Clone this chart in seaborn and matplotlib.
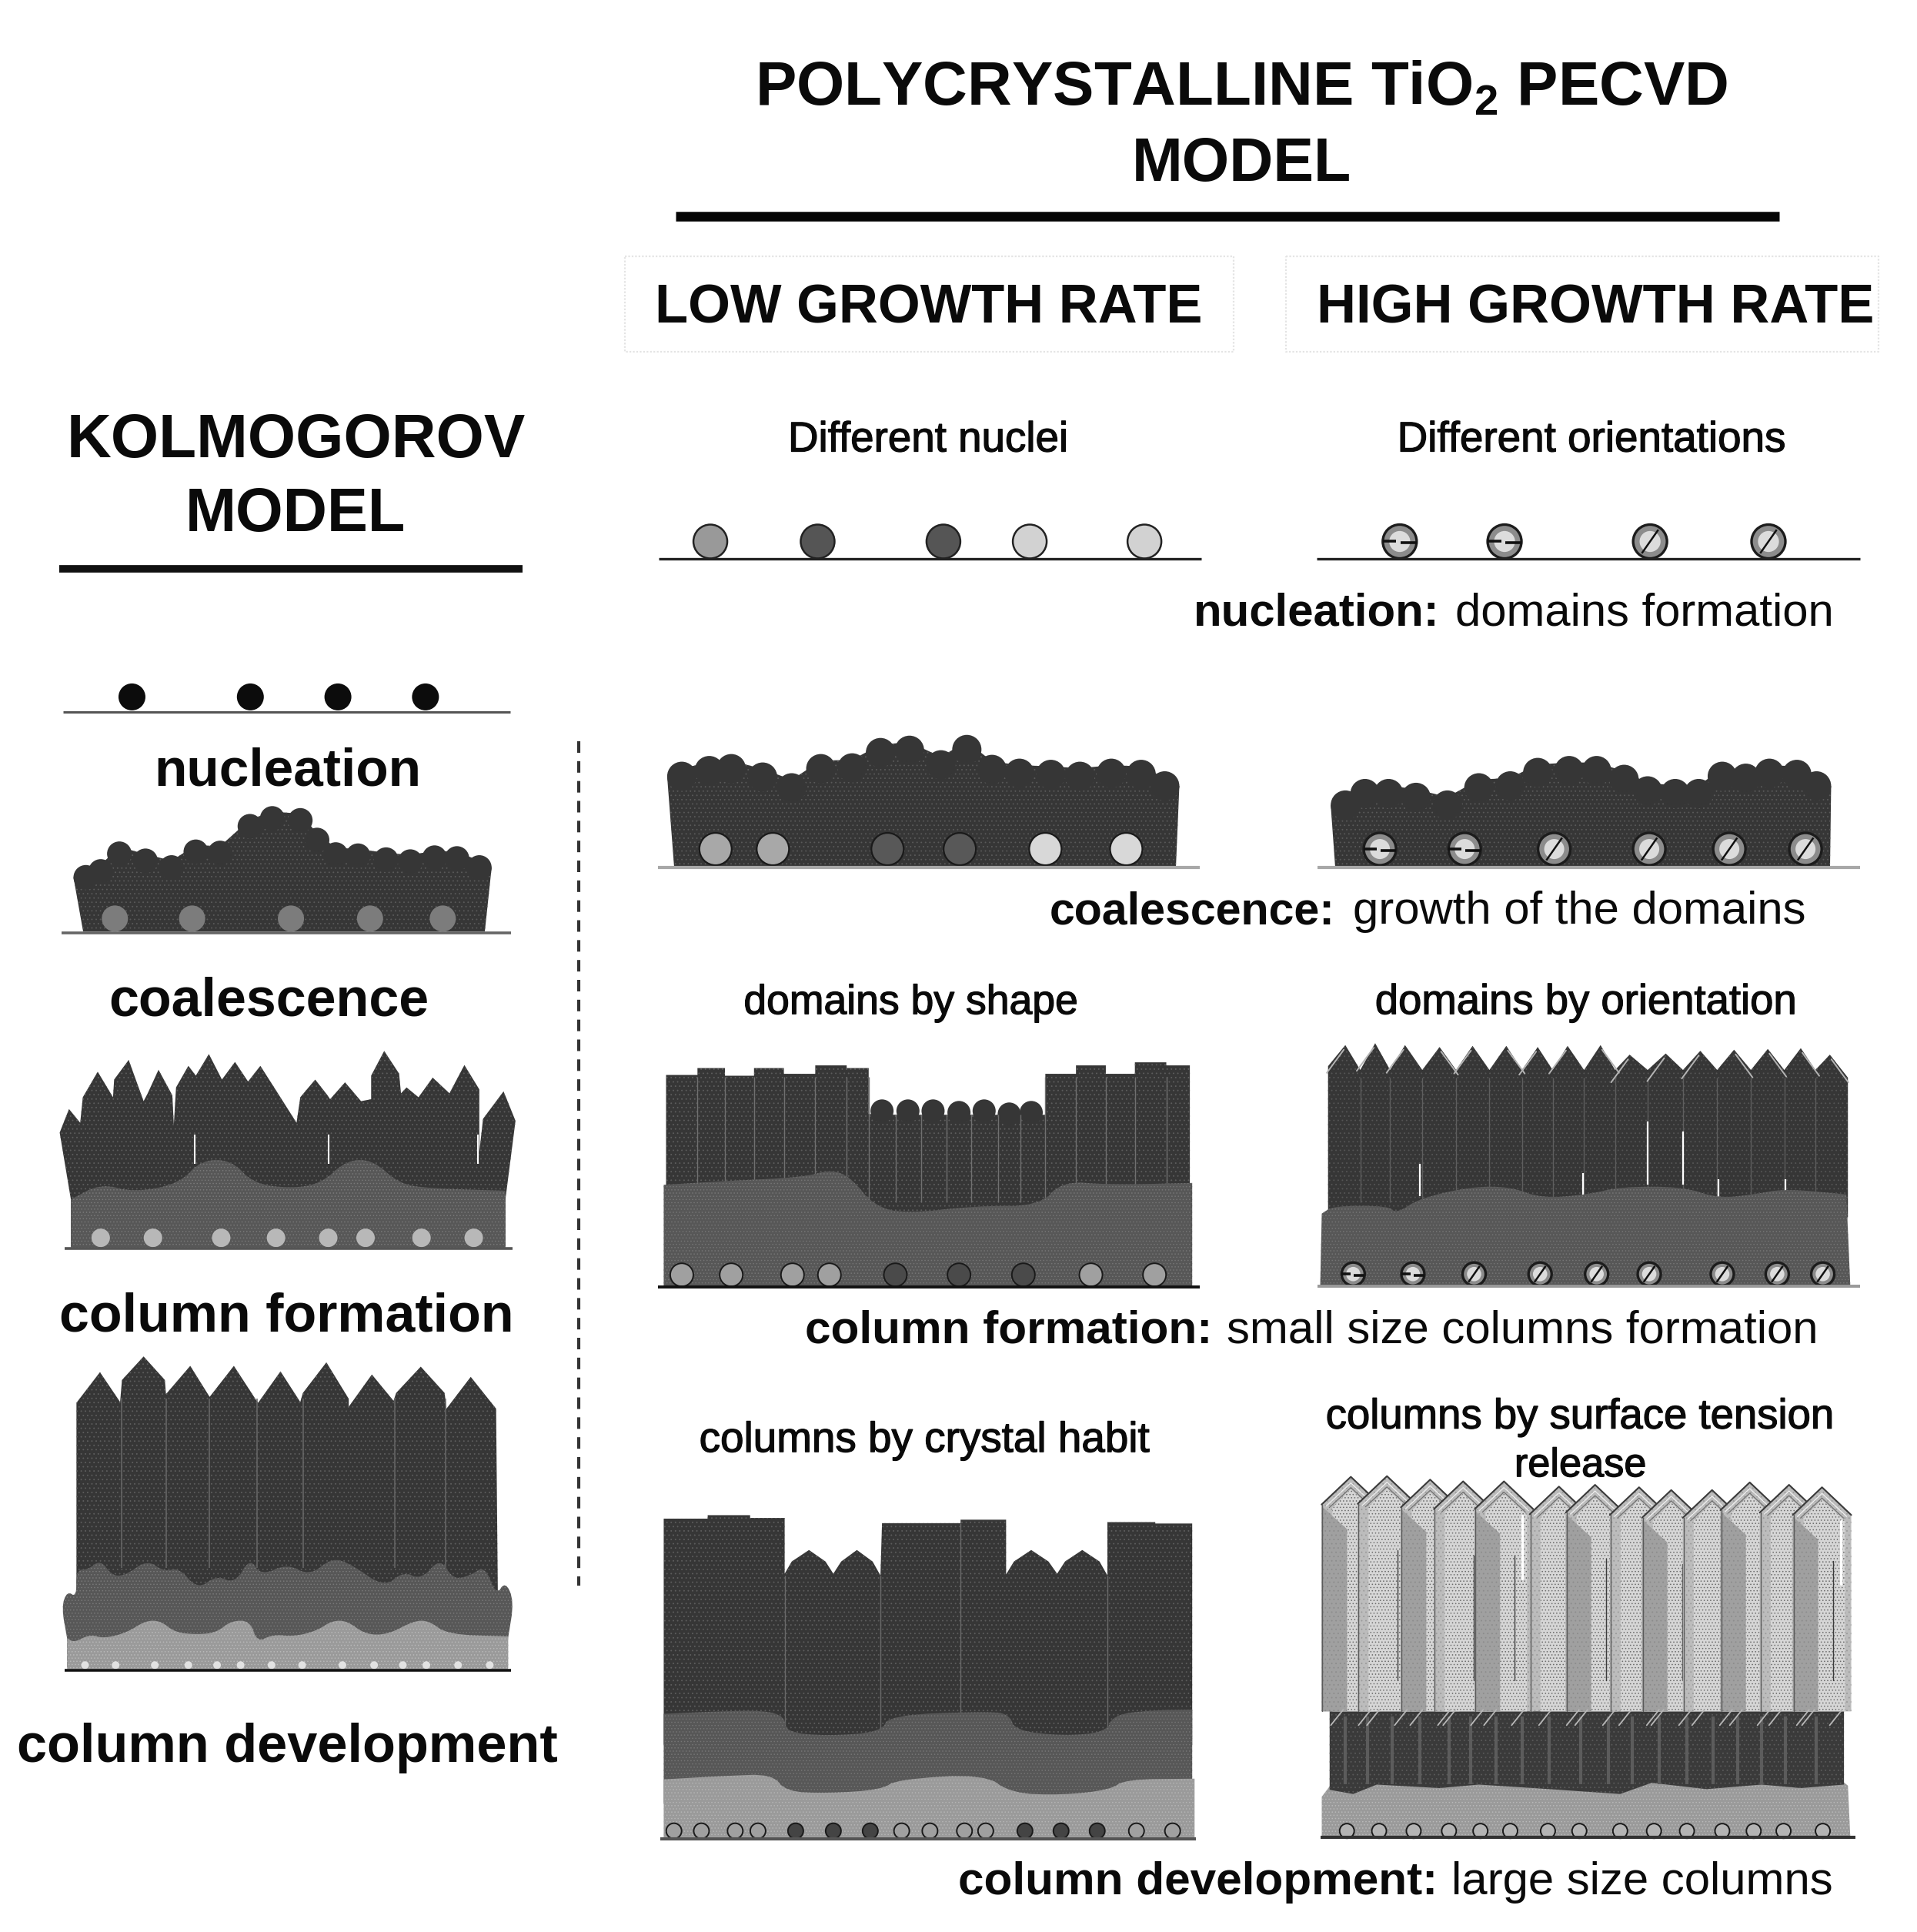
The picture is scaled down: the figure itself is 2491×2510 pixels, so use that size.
import numpy as np
import matplotlib
matplotlib.use("Agg")
import matplotlib.pyplot as plt
import matplotlib.patheffects as pe
import seaborn as sns

W, H = 2491, 2510
K = 1.6025

DARK = "#363636"
MID = "#575757"
LIGHT = "#9a9a9a"

# ---------- text: (string, left, right, baseline, weight) in picture units
LABELS = [
    (r"POLYCRYSTALLINE TiO$_{\mathbf{2}}$ PECVD", 612, 1401, 85.5, "bold"),
    ("MODEL", 918, 1096, 146.5, "bold"),
    ("LOW GROWTH RATE", 531, 974, 262, "bold"),
    ("HIGH GROWTH RATE", 1068, 1520, 262, "bold"),
    ("KOLMOGOROV", 54, 426, 370.5, "bold"),
    ("MODEL", 150, 329, 430.5, "bold"),
    ("Different nuclei", 639, 866, 366, "medium"),
    ("Different orientations", 1133, 1448, 366, "medium"),
    ("nucleation:", 968, 1167, 507, "bold"),
    ("domains formation", 1180, 1487, 507, "normal"),
    ("nucleation", 125, 341, 637, "bold"),
    ("coalescence", 88, 347, 823.5, "bold"),
    ("column formation", 48, 416, 1079.5, "bold"),
    ("column development", 14, 452, 1428.5, "bold"),
    ("coalescence:", 851, 1082, 749, "bold"),
    ("growth of the domains", 1097, 1465, 749, "normal"),
    ("domains by shape", 603, 874, 822, "medium"),
    ("domains by orientation", 1115, 1457, 822, "medium"),
    ("column formation:", 653, 983, 1088.5, "bold"),
    ("small size columns formation", 995, 1476, 1088.5, "normal"),
    ("columns by crystal habit", 567, 932, 1177, "medium"),
    ("columns by surface tension", 1075, 1487, 1158, "medium"),
    ("release", 1228, 1335, 1197, "medium"),
    ("column development:", 777, 1165, 1535.5, "bold"),
    ("large size columns", 1177, 1487, 1535.5, "normal"),
]

# ---------- top row nuclei (picture units)
NUC_LEFT_X = [107, 203, 274, 345]
NUC_LOW_X = [576, 663, 765, 835, 928]
NUC_LOW_C = ["#999999", "#555555", "#555555", "#d2d2d2", "#d2d2d2"]
NUC_HIGH_X = [1135, 1220, 1338, 1434]
NUC_HIGH_A = [0, 0, 55, 55]

# ---------- crop 1 frame (0,900,760,800): left coalescence and left column formation
C1 = (0, 900, 760, 800)
L_COAL_TOP_X = [230, 270, 320, 390, 460, 525, 590, 670, 730, 805, 850, 900, 960, 1035, 1100, 1165, 1225, 1285]
L_COAL_TOP_Y = [470, 455, 410, 428, 445, 405, 408, 340, 320, 325, 375, 412, 415, 425, 430, 420, 422, 445]
L_COAL_NUC_X = [308, 515, 780, 992, 1187]
L_FORM_DARK = [(160, 1120), (185, 1060), (215, 1095), (222, 1030), (262, 965), (303, 1030), (306, 985), (345, 935),
               (385, 1040), (396, 1020), (425, 960), (462, 1025), (466, 1100), (472, 1005), (505, 950), (525, 975),
               (560, 920), (595, 985), (630, 940), (665, 990), (698, 950), (745, 1020), (795, 1095), (805, 1030),
               (845, 985), (878, 1025), (885, 1035), (925, 992), (968, 1040), (995, 1035), (995, 975), (1030, 912),
               (1070, 970), (1075, 1020), (1090, 1005), (1122, 1030), (1160, 980), (1205, 1020), (1245, 948),
               (1285, 1010), (1285, 1170), (1295, 1085), (1350, 1015), (1382, 1090), (1355, 1290), (1355, 1410),
               (190, 1410), (190, 1290)]
L_FORM_MID = [(190, 1290), (270, 1250), (360, 1272), (480, 1250), (540, 1190), (620, 1190), (680, 1250), (780, 1262),
              (860, 1250), (930, 1190), (1000, 1190), (1070, 1250), (1150, 1262), (1355, 1268), (1355, 1414), (190, 1414)]
L_FORM_NUC_X = [270, 410, 593, 740, 880, 980, 1130, 1270]
L_FORM_SLIT_X = [523, 880, 1282]

# ---------- crop 2 frame (0,1700,760,800): left column development
C2 = (0, 1700, 760, 800)
L_DEV_DARK = [(205, 240), (268, 162), (322, 238), (327, 182), (385, 122), (442, 182), (445, 218), (510, 146), (562, 225),
              (627, 146), (688, 235), (692, 240), (752, 160), (805, 238), (812, 215), (875, 137), (935, 230), (935, 250),
              (997, 168), (1055, 235), (1062, 215), (1128, 148), (1192, 215), (1197, 255), (1262, 174), (1330, 255),
              (1335, 760), (205, 760)]
L_DEV_MID = [(180, 840), (165, 760), (180, 720), (205, 735), (205, 665), (235, 665), (270, 640), (300, 680), (335, 680),
             (395, 640), (440, 670), (480, 660), (530, 715), (580, 680), (630, 700), (670, 635), (700, 680), (770, 650),
             (830, 680), (890, 635), (940, 650), (1030, 710), (1080, 670), (1130, 690), (1180, 635), (1215, 690),
             (1260, 680), (1300, 655), (1330, 730), (1355, 695), (1378, 745), (1362, 840), (1362, 915), (180, 915)]
L_DEV_LIGHT = [(180, 840), (200, 850), (240, 830), (280, 840), (340, 825), (390, 795), (430, 795), (470, 825), (530, 830),
               (580, 825), (620, 795), (670, 795), (690, 850), (730, 830), (790, 835), (850, 820), (890, 795), (930, 795),
               (980, 830), (1040, 830), (1110, 795), (1150, 795), (1200, 830), (1362, 835), (1362, 918), (180, 918)]
L_DEV_NUC_X = [228, 310, 415, 505, 582, 645, 728, 810, 918, 1003, 1080, 1143, 1228, 1313]
L_DEV_GAP_X = [325, 445, 562, 690, 812, 1058, 1195]

# ---------- crop 3 frame (840,920,1600,780): coalescence and column formation, right
C3 = (840, 920, 1600, 780)
LOW_COAL_TOP_X = [45, 80, 108, 148, 185, 222, 262, 298, 335, 375, 408, 440, 475, 515, 552, 592, 630, 660]
LOW_COAL_TOP_Y = [170, 155, 150, 172, 200, 150, 148, 108, 102, 140, 100, 152, 162, 165, 170, 162, 165, 195]
LOW_COAL_NUC_X = [88, 161, 307, 399, 508, 611]
LOW_COAL_NUC_C = ["#a8a8a8", "#a8a8a8", "#585858", "#585858", "#d8d8d8", "#d8d8d8"]
HIGH_COAL_TOP_X = [890, 915, 945, 980, 1020, 1060, 1100, 1135, 1175, 1210, 1245, 1275, 1310, 1340, 1370, 1400, 1430, 1465, 1490]
HIGH_COAL_TOP_Y = [245, 215, 215, 225, 245, 200, 195, 160, 155, 155, 178, 208, 215, 215, 170, 175, 162, 165, 195]
HIGH_COAL_NUC_X = [934, 1042, 1156, 1277, 1379, 1476]
HIGH_COAL_NUC_A = [0, 0, 55, 55, 55, 55]

LOW_FORM_DARK = [(25, 958), (65, 958), (65, 940), (100, 940), (100, 960), (137, 960), (137, 940), (175, 940), (175, 955),
                 (215, 955), (215, 933), (255, 933), (255, 940), (283, 940), (283, 1060), (318, 1062),
                 (350, 1062), (382, 1062), (414, 1062), (448, 1062),
                 (476, 1062), (508, 1062), (508, 955), (547, 955), (547, 933), (585, 933),
                 (585, 955), (622, 955), (622, 925), (662, 925), (662, 933), (692, 933), (692, 1340), (25, 1340)]
LOW_FORM_ARCH_X = [300, 333, 365, 398, 430, 462, 490]
LOW_FORM_ARCH_Y = [1052, 1052, 1052, 1056, 1052, 1060, 1056]
LOW_FORM_MID = [(22, 1245), (100, 1235), (200, 1225), (235, 1205), (260, 1225), (290, 1300), (330, 1320), (420, 1300),
                (500, 1300), (530, 1235), (590, 1245), (695, 1240), (695, 1510), (22, 1510)]
LOW_FORM_GAP_X = [65, 100, 137, 175, 215, 255, 283, 318, 350, 382, 414, 448, 476, 508, 547, 585, 622, 662]
LOW_FORM_GAP_TOP = [962, 962, 962, 962, 962, 962, 962, 1062, 1062, 1062, 1062, 1062, 1062, 962, 962, 962, 962, 962]
LOW_FORM_NUC_X = [45, 108, 186, 233, 317, 398, 480, 566, 647]
LOW_FORM_NUC_C = ["#a0a0a0", "#a0a0a0", "#a0a0a0", "#a0a0a0", "#4a4a4a", "#4a4a4a", "#4a4a4a", "#a0a0a0", "#a0a0a0"]

HIGH_FORM_APEX_X = [890, 928, 966, 1010, 1052, 1095, 1135, 1173, 1215, 1252, 1298, 1342, 1385, 1428, 1470, 1507]
HIGH_FORM_APEX_Y = [880, 875, 880, 885, 882, 882, 885, 882, 880, 905, 902, 895, 892, 890, 888, 905]
HIGH_FORM_SLASH = [-1, -1, -1, 1, -1, 1, -1, -1, 1, -1, -1, -1, 1, 1, 1, 1]
HIGH_FORM_MID = [(860, 1320), (875, 1300), (945, 1300), (955, 1320), (985, 1280), (1050, 1250), (1100, 1250), (1140, 1280),
                 (1200, 1270), (1240, 1250), (1320, 1250), (1365, 1280), (1410, 1270), (1450, 1255), (1528, 1270),
                 (1533, 1508), (858, 1508)]
HIGH_FORM_SLIT_X = [985, 1193, 1275, 1320, 1365, 1450]
HIGH_FORM_SLIT_TOP = [1190, 1215, 1080, 1105, 1230, 1230]
HIGH_FORM_SLIT_BOT = [1275, 1275, 1245, 1245, 1285, 1262]
HIGH_FORM_NUC_X = [900, 976, 1054, 1138, 1210, 1277, 1370, 1440, 1498]
HIGH_FORM_NUC_A = [0, 0, 55, 55, 55, 55, 55, 55, 55]

# ---------- crop 4 frame (840,1800,1600,710): column development, right
C4 = (840, 1800, 1600, 710)
LOW_DEV_DARK = [(22, 382), (78, 382), (78, 372), (132, 372), (132, 380), (176, 380), (176, 540), (185, 505), (207, 472),
                (228, 505), (238, 540), (248, 505), (268, 472), (288, 505), (298, 545), (300, 395), (400, 395), (400, 385),
                (458, 385), (458, 542), (468, 505), (490, 472), (512, 505), (523, 540), (533, 505), (555, 472), (577, 505),
                (587, 545), (587, 392), (648, 392), (648, 396), (695, 396), (695, 1030), (22, 1030)]
LOW_DEV_MID = [(22, 942), (90, 935), (150, 932), (176, 950), (178, 995), (230, 1005), (298, 995), (310, 945), (440, 935),
               (462, 945), (470, 990), (530, 1005), (585, 995), (595, 945), (640, 932), (695, 930), (695, 1200), (22, 1200)]
LOW_DEV_LIGHT = [(22, 1130), (100, 1120), (160, 1115), (178, 1165), (230, 1170), (298, 1160), (320, 1130), (430, 1115),
                 (465, 1170), (530, 1175), (590, 1160), (610, 1130), (698, 1128), (698, 1296), (22, 1296)]
LOW_DEV_GAP_X = [176, 298, 400, 587]
LOW_DEV_GAP_TOP = [545, 545, 395, 545]
LOW_DEV_NUC_X = [35, 70, 113, 142, 190, 238, 285, 325, 361, 405, 432, 482, 528, 574, 624, 670]
LOW_DEV_NUC_C = ["#a0a0a0"] * 4 + ["#444444"] * 3 + ["#a0a0a0"] * 4 + ["#444444"] * 3 + ["#a0a0a0"] * 2

HIGH_DEV_APEX_X = [897, 943, 998, 1040, 1092, 1162, 1208, 1264, 1305, 1357, 1405, 1455, 1497]
HIGH_DEV_APEX_Y = [262, 260, 270, 275, 275, 290, 285, 292, 300, 300, 278, 285, 292]
HIGH_DEV_DARK = [(870, 930), (1525, 930), (1525, 1145), (1470, 1155), (1420, 1145), (1350, 1158), (1280, 1140), (1240, 1172),
                 (1130, 1155), (1060, 1145), (1010, 1155), (930, 1145), (900, 1172), (870, 1160)]
HIGH_DEV_LIGHT = [(860, 1180), (870, 1150), (880, 1130), (1520, 1130), (1530, 1148), (1533, 1295), (860, 1295)]
HIGH_DEV_GAP_X = [890, 918, 950, 985, 1022, 1050, 1082, 1115, 1150, 1190, 1225, 1255, 1290, 1325, 1358, 1390, 1420, 1450, 1490]
HIGH_DEV_NUC_X = [892, 933, 977, 1022, 1062, 1100, 1148, 1188, 1240, 1283, 1325, 1370, 1410, 1448, 1498]


# ---------- coordinate helpers
def cx(frame, v):
    return frame[0] + np.asarray(v, float) * frame[2] / 1568.0


def cy(frame, v):
    return frame[1] + np.asarray(v, float) * frame[3] / 1568.0


def pts(frame, seq):
    a = np.array(seq, float)
    return cx(frame, a[:, 0]), cy(frame, a[:, 1])


def rounded(frame, seq, keep=2, n=2):
    """Round the drawn corners of an outline's upper edge; the last `keep` points stay as they are."""
    x, y = pts(frame, seq)
    tx, ty = x[:-keep], y[:-keep]
    for _ in range(n):
        qx = np.c_[0.75 * tx[:-1] + 0.25 * tx[1:], 0.25 * tx[:-1] + 0.75 * tx[1:]].ravel()
        qy = np.c_[0.75 * ty[:-1] + 0.25 * ty[1:], 0.25 * ty[:-1] + 0.75 * ty[1:]].ravel()
        tx = np.r_[tx[0], qx, tx[-1]]
        ty = np.r_[ty[0], qy, ty[-1]]
    return np.r_[tx, x[-keep:]], np.r_[ty, y[-keep:]]


sns.set_theme(style="white")
plt.rcParams["font.family"] = ["Liberation Sans", "DejaVu Sans"]
plt.rcParams["mathtext.fontset"] = "custom"
plt.rcParams["mathtext.rm"] = "Liberation Sans"
plt.rcParams["mathtext.bf"] = "Liberation Sans:bold"
plt.rcParams["hatch.linewidth"] = 0.6

fig = plt.figure(figsize=(W / 100, H / 100), dpi=100, facecolor="white")
ax = fig.add_axes([0, 0, 1, 1])
ax.set_xlim(0, W)
ax.set_ylim(H, 0)
ax.axis("off")


def poly(x, y, color, hatch_color, z=2, hatch="..."):
    ax.fill(x, y, facecolor=color, edgecolor=hatch_color, hatch=hatch, lw=0, zorder=z)


def dots(x, y, r, colors, edge="none", lw=0.0, z=3):
    x = np.atleast_1d(x)
    y = np.full(x.shape, float(y)) if np.ndim(y) == 0 else np.asarray(y)
    if isinstance(colors, str):
        colors = [colors] * len(x)
    sns.scatterplot(x=x, y=y, hue=list(colors), palette={c: c for c in colors}, s=(1.44 * r) ** 2,
                    edgecolor=edge, linewidth=lw, legend=False, ax=ax, zorder=z)


def striped(x, y, r, angles, z=4):
    dots(x, y, r, "#8c8c8c", edge="#1c1c1c", lw=2.4, z=z)
    dots(x, y, r * 0.62, "#dcdcdc", z=z)
    for xi, ang in zip(x, angles):
        t = np.deg2rad(ang)
        c, s = np.cos(t), np.sin(t)
        if ang == 0:
            ax.plot([xi - r, xi - 0.2 * r], [y, y], color="#111111", lw=2.6, zorder=z + 1, solid_capstyle="butt")
            ax.plot([xi + 0.05 * r, xi + r], [y + 1.5, y + 1.5], color="#111111", lw=2.6, zorder=z + 1,
                    solid_capstyle="butt")
        else:
            ax.plot([xi - 0.85 * r * c, xi + 0.85 * r * c], [y + 0.85 * r * s, y - 0.85 * r * s],
                    color="#111111", lw=1.8, zorder=z + 1, solid_capstyle="butt")


def hline(x0, x1, y, color, lw=2.2, z=5):
    ax.plot([x0, x1], [y, y], color=color, lw=lw, zorder=z, solid_capstyle="butt")


def vgaps(x, y0, y1, color="#686868", lw=1.1, z=2.5):
    ax.vlines(x, y0, y1, color=color, lw=lw, zorder=z)


def blob(frame, tx, ty, left_bot, right_bot, base, r, drop=0.0):
    xs = cx(frame, tx)
    ys = cy(frame, ty) + drop
    px = np.r_[left_bot, xs[0] - r, xs, xs[-1] + r, right_bot]
    py = np.r_[base, ys[0], ys - 0.55 * r, ys[-1], base]
    poly(px, py, DARK, "#5a5a5a")
    dots(xs, ys, r, DARK, z=2)


# ---------- headers
ax.plot([548 * K, 2312], [281, 281], color="#050505", lw=9, solid_capstyle="butt")
ax.plot([48 * K, 424 * K], [461 * K, 461 * K], color="#111111", lw=7, solid_capstyle="butt")
for x0, x1 in [(507, 1000), (1043, 1523)]:
    ax.plot(np.array([x0, x1, x1, x0, x0]) * K, np.array([208, 208, 285, 285, 208]) * K,
            color="#e4e4e4", lw=1.6, ls=(0, (1, 1)), zorder=1)
ax.plot([752, 752], [963, 2060], color="#333333", lw=3, ls=(0, (3.6, 2.6)), dash_capstyle="butt")

# ---------- top row
hline(51 * K, 414 * K, 577 * K, "#555555")
dots(np.array(NUC_LEFT_X) * K, 565 * K, 17.5, "#0c0c0c")
hline(534 * K, 974 * K, 453 * K, "#222222", lw=2.4)
hline(1068 * K, 1508 * K, 453 * K, "#222222", lw=2.4)
dots(np.array(NUC_LOW_X) * K, 439 * K, 22, NUC_LOW_C, edge="#222222", lw=1.8)
striped(np.array(NUC_HIGH_X) * K, 439 * K, 22, NUC_HIGH_A)

# ---------- left coalescence
blob(C1, L_COAL_TOP_X, L_COAL_TOP_Y, 108, 630, 1210, 16)
dots(cx(C1, L_COAL_NUC_X), cy(C1, 575), 17, "#7c7c7c")
hline(80, 664, 1212, "#666666", lw=2.6)

# ---------- left column formation
poly(*pts(C1, L_FORM_DARK), DARK, "#5e5e5e")
vgaps(cx(C1, L_FORM_SLIT_X), cy(C1, 1125), cy(C1, 1200), color="white", lw=1.5, z=2.2)
poly(*rounded(C1, L_FORM_MID), MID, "#787878", z=3, hatch="....")
dots(cx(C1, L_FORM_NUC_X), cy(C1, 1388), 12, "#b8b8b8", z=4)
hline(cx(C1, 173), cx(C1, 1375), cy(C1, 1416), "#555555", lw=2.6)

# ---------- left column development
poly(*pts(C2, L_DEV_DARK), DARK, "#5e5e5e")
vgaps(cx(C2, L_DEV_GAP_X), cy(C2, 230), cy(C2, 660))
poly(*rounded(C2, L_DEV_MID), MID, "#787878", z=3, hatch="....")
poly(*rounded(C2, L_DEV_LIGHT), LIGHT, "#b8b8b8", z=3.5, hatch="....")
dots(cx(C2, L_DEV_NUC_X), cy(C2, 908), 5, "#e2e2e2", z=4)
hline(cx(C2, 173), cx(C2, 1370), cy(C2, 922), "#111111", lw=2.6)

# ---------- low rate coalescence
blob(C3, LOW_COAL_TOP_X, LOW_COAL_TOP_Y, 876, 1528, cy(C3, 415), 19, drop=4)
dots(cx(C3, LOW_COAL_NUC_X), cy(C3, 368), 21, LOW_COAL_NUC_C, edge="#1a1a1a", lw=1.6)
hline(cx(C3, 15), cx(C3, 705), cy(C3, 417), "#a8a8a8", lw=3)

# ---------- high rate coalescence
blob(C3, HIGH_COAL_TOP_X, HIGH_COAL_TOP_Y, 1735, 2378, cy(C3, 415), 19, drop=4)
striped(cx(C3, HIGH_COAL_NUC_X), cy(C3, 368), 21, HIGH_COAL_NUC_A)
hline(cx(C3, 855), cx(C3, 1545), cy(C3, 417), "#a8a8a8", lw=3)

# ---------- low rate column formation
poly(*pts(C3, LOW_FORM_DARK), DARK, "#5e5e5e")
dots(cx(C3, LOW_FORM_ARCH_X), cy(C3, LOW_FORM_ARCH_Y), 15, DARK, z=2)
vgaps(cx(C3, LOW_FORM_GAP_X), cy(C3, LOW_FORM_GAP_TOP), cy(C3, 1290), color="#707070", lw=1.0)
poly(*rounded(C3, LOW_FORM_MID), MID, "#747474", z=3, hatch="....")
dots(cx(C3, LOW_FORM_NUC_X), cy(C3, 1480), 15, LOW_FORM_NUC_C, edge="#1a1a1a", lw=1.4, z=4)
hline(cx(C3, 15), cx(C3, 705), cy(C3, 1512), "#111111", lw=2.8)

# ---------- high rate column formation
ax_x = cx(C3, HIGH_FORM_APEX_X)
ax_y = cy(C3, HIGH_FORM_APEX_Y)
top_x, top_y = [cx(C3, 868)], [cy(C3, 935)]
for i, (a, b) in enumerate(zip(ax_x, ax_y)):
    top_x.append(a)
    top_y.append(b)
    if i < len(ax_x) - 1:
        top_x.append((a + ax_x[i + 1]) / 2)
        top_y.append(cy(C3, 945))
top_x += [cx(C3, 1530), cx(C3, 1530), cx(C3, 868)]
top_y += [cy(C3, 965), cy(C3, 1330), cy(C3, 1330)]
poly(top_x, top_y, DARK, "#565656")
for a, b, d in zip(ax_x, ax_y, HIGH_FORM_SLASH):
    ax.plot([a + 2 * d, a + 24 * d], [b + 6, b + 36], color="#b4b4b4", lw=1.4, zorder=3)
vgaps((ax_x[:-1] + ax_x[1:]) / 2, cy(C3, 965), cy(C3, 1290), color="#5e5e5e", lw=1.0)
vgaps(cx(C3, HIGH_FORM_SLIT_X), cy(C3, HIGH_FORM_SLIT_TOP), cy(C3, HIGH_FORM_SLIT_BOT), color="white", lw=1.6, z=2.7)
poly(*rounded(C3, HIGH_FORM_MID), MID, "#747474", z=3, hatch="....")
striped(cx(C3, HIGH_FORM_NUC_X), cy(C3, 1478), 15, HIGH_FORM_NUC_A)
hline(cx(C3, 855), cx(C3, 1545), cy(C3, 1510), "#999999", lw=2.8)

# ---------- low rate column development
poly(*pts(C4, LOW_DEV_DARK), DARK, "#5e5e5e")
poly(*rounded(C4, LOW_DEV_MID), MID, "#747474", z=3, hatch="....")
poly(*rounded(C4, LOW_DEV_LIGHT), LIGHT, "#b4b4b4", z=3.5, hatch="....")
vgaps(cx(C4, LOW_DEV_GAP_X), cy(C4, LOW_DEV_GAP_TOP), cy(C4, 1000), color="#6a6a6a", lw=1.0)
dots(cx(C4, LOW_DEV_NUC_X), cy(C4, 1278), 10, LOW_DEV_NUC_C, edge="#1a1a1a", lw=1.4, z=4)
hline(cx(C4, 18), cx(C4, 700), cy(C4, 1300), "#555555", lw=3)

# ---------- high rate column development
poly(*pts(C4, HIGH_DEV_LIGHT), LIGHT, "#b8b8b8", z=2, hatch="....")
poly(*pts(C4, HIGH_DEV_DARK), "#3a3a3a", "#5a5a5a", z=3)
vgaps(cx(C4, HIGH_DEV_GAP_X), cy(C4, 950), cy(C4, 1145), color="#5c5c5c", lw=3.0, z=3.2)
dev_x = cx(C4, HIGH_DEV_APEX_X)
dev_y = cy(C4, HIGH_DEV_APEX_Y)
base_y = cy(C4, 935)
hw, sh = 38.0, 36.0
for i, (a, b) in enumerate(zip(dev_x, dev_y)):
    z = 4 + i * 0.01
    ax.fill([a - hw, a, a + hw, a + hw, a - hw], [b + sh, b, b + sh, base_y, base_y],
            facecolor="#bcbcbc", edgecolor="#9a9a9a", hatch="...", lw=0, zorder=z)
    ax.fill([a - hw + 14, a, a + hw - 8, a + hw - 8, a - hw + 14],
            [b + sh + 4, b + 16, b + sh + 8, base_y, base_y],
            facecolor="#d6d6d6", edgecolor="#6c6c6c", hatch="....", lw=0, zorder=z + 0.001)
    if i % 2 == 0:
        ax.fill([a - hw, a - hw + 33, a - hw + 33, a - hw],
                [b + sh + 2, b + sh + 32, base_y, base_y],
                facecolor="#a0a0a0", edgecolor="#8c8c8c", hatch="...", lw=0, zorder=z + 0.002)
    ax.plot([a - hw, a, a + hw], [b + sh, b, b + sh], color="#3a3a3a", lw=1.5, zorder=z + 0.003)
    ax.plot([a - hw + 6, a, a + hw - 6], [b + sh + 2, b + 8, b + sh + 2], color="#f0f0f0", lw=0.9, zorder=z + 0.003)
    ax.plot([a - hw + 10, a, a + hw - 10], [b + sh + 4, b + 14, b + sh + 4], color="#6c6c6c", lw=0.8, zorder=z + 0.003)
    ax.plot([a + hw - 14, a + hw - 14], [b + sh + 8, b + sh + 90], color="white", lw=2.2, zorder=z + 0.004)
    ax.plot([a + hw - 24, a + hw - 24], [b + sh + 60, base_y - 40], color="#3c3c3c", lw=1.0, zorder=z + 0.004)
    ax.plot([a - hw + 1, a - hw + 1], [b + sh, base_y], color="#5a5a5a", lw=1.0, zorder=z + 0.004)
for a in np.r_[dev_x - 18, dev_x + 18]:
    ax.plot([a - 8, a + 8], [base_y + 18, base_y - 2], color="#b8b8b8", lw=1.3, zorder=5)
dots(cx(C4, HIGH_DEV_NUC_X), cy(C4, 1278), 9.5, "#b4b4b4", edge="#1a1a1a", lw=1.4, z=5)
hline(cx(C4, 858), cx(C4, 1540), cy(C4, 1297), "#333333", lw=3)

# ---------- text, fitted to its measured extent
renderer = fig.canvas.get_renderer()
for s, x0, x1, base, weight in LABELS:
    real_w = "normal" if weight == "medium" else weight
    t = ax.text(x0 * K, base * K, s, fontsize=40, fontweight=real_w, color="#0a0a0a", ha="left", va="baseline", zorder=10)
    ext = t.get_window_extent(renderer)
    t.set_fontsize(40 * (x1 - x0) * K / ext.width)
    if weight == "medium":
        t.set_path_effects([pe.withStroke(linewidth=0.9, foreground="#0a0a0a")])

fig.savefig("out.png", dpi=100, facecolor="white")
